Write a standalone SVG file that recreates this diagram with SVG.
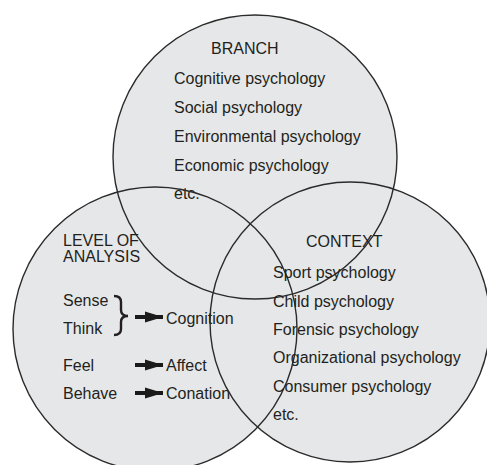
<svg xmlns="http://www.w3.org/2000/svg" width="487" height="465" viewBox="0 0 487 465">
  <style>
    .disc { fill: #e6e7e8; stroke: none; }
    .rim { fill: none; stroke: #2b2b2b; stroke-width: 1.4; }
    text { font-family: "Liberation Sans", Arial, sans-serif; font-size: 16px; fill: #231f20; }
    .arrow { stroke: #1a1a1a; stroke-width: 4; fill: none; }
    .brace { stroke: #231f20; stroke-width: 2.4; fill: none; }
  </style>
  <defs>
    <marker id="head" markerUnits="userSpaceOnUse" markerWidth="19" markerHeight="12" refX="18" refY="6" orient="auto">
      <path d="M0,0.5 L18,6 L0,11.5 Z" fill="#1a1a1a"/>
    </marker>
  </defs>
  <rect width="487" height="465" fill="#ffffff"/>

  <!-- circle fills first, so the outlines stay visible in the overlaps -->
  <g id="fills">
    <circle class="disc" cx="255" cy="157" r="142"/>
    <circle class="disc" cx="155" cy="329" r="142"/>
    <circle class="disc" cx="350" cy="322" r="140"/>
  </g>

  <g id="branch">
    <circle class="rim" cx="255" cy="157" r="142"/>
    <text x="211" y="54">BRANCH</text>
    <text x="174" y="84">Cognitive psychology</text>
    <text x="174" y="113">Social psychology</text>
    <text x="174" y="142">Environmental psychology</text>
    <text x="174" y="171">Economic psychology</text>
    <text x="174" y="199">etc.</text>
  </g>

  <g id="level-of-analysis">
    <circle class="rim" cx="155" cy="329" r="142"/>
    <text x="63" y="246">LEVEL OF</text>
    <text x="63" y="262">ANALYSIS</text>
    <text x="63" y="306">Sense</text>
    <text x="63" y="334">Think</text>
    <path class="brace" d="M114,296 Q121,296 121,302 L121,310 Q121,316 128,316 Q121,316 121,322 L121,329 Q121,335 114,335"/>
    <text x="63" y="371">Feel</text>
    <text x="63" y="399">Behave</text>
    <text x="166" y="324">Cognition</text>
    <text x="166" y="371">Affect</text>
    <text x="166" y="399">Conation</text>
  </g>

  <g id="connectors">
    <line class="arrow" x1="135" y1="317" x2="163" y2="317" marker-end="url(#head)"/>
    <line class="arrow" x1="135" y1="365" x2="163" y2="365" marker-end="url(#head)"/>
    <line class="arrow" x1="135" y1="393" x2="163" y2="393" marker-end="url(#head)"/>
  </g>

  <g id="context">
    <circle class="rim" cx="350" cy="322" r="140"/>
    <text x="306" y="247">CONTEXT</text>
    <text x="273" y="278">Sport psychology</text>
    <text x="273" y="307">Child psychology</text>
    <text x="273" y="335">Forensic psychology</text>
    <text x="273" y="363">Organizational psychology</text>
    <text x="273" y="392">Consumer psychology</text>
    <text x="273" y="420">etc.</text>
  </g>
</svg>
